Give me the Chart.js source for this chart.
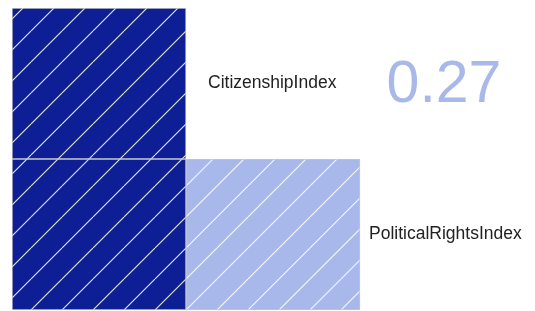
<!DOCTYPE html>
<html>
<head>
<meta charset="utf-8">
<script src="https://cdn.jsdelivr.net/npm/chart.js@4"></script>
<style>
  body { margin: 0; background: #fff; }
  canvas { display: block; }
</style>
</head>
<body>
<canvas id="chart" width="535" height="311"></canvas>
<script>
// columnas de la matriz (la tercera es solo espacio para las etiquetas)
const columns = ['CitizenshipIndex', 'PoliticalRightsIndex', ''];
// fila inferior y fila superior (cada celda ocupa 1 unidad)
const bottomRow = [1, 1, null];
const topRow = [1, null, null];
const bottomColors = ['#0e1f96', '#a8b8ea', '#fff'];
const topColors = ['#0e1f96', '#fff', '#fff'];
const rowLabels = ['PoliticalRightsIndex', 'CitizenshipIndex'];
const corrText = '0.27';

function hatch(color) {
    const s = 31;
    const c = document.createElement('canvas');
    c.width = s; c.height = s;
    const g = c.getContext('2d');
    g.fillStyle = color;
    g.fillRect(0, 0, s, s);
    g.strokeStyle = 'rgba(255,255,255,0.9)';
    g.lineWidth = 1.1;
    for (const off of [-s, 0, s]) {
        g.beginPath();
        g.moveTo(off, s);
        g.lineTo(off + s, 0);
        g.stroke();
    }
    return g.createPattern(c, 'repeat');
}

const labelPlugin = {
    id: 'labels',
    afterDatasetsDraw(chart) {
        const { ctx, scales } = chart;
        const colW = scales.x.getPixelForValue(1) - scales.x.getPixelForValue(0);
        ctx.save();
        ctx.fillStyle = '#222';
        ctx.font = '17.5px "Liberation Sans", Arial, sans-serif';
        ctx.textBaseline = 'middle';
        ctx.textAlign = 'left';
        ctx.fillText(rowLabels[1], scales.x.getPixelForValue(1) - colW / 2 + 22, scales.y.getPixelForValue(1.5));
        ctx.fillText(rowLabels[0], scales.x.getPixelForValue(2) - colW / 2 + 9, scales.y.getPixelForValue(0.5));
        ctx.fillStyle = '#a8b8ea';
        ctx.font = '59px "Liberation Sans", Arial, sans-serif';
        ctx.textAlign = 'center';
        ctx.fillText(corrText, scales.x.getPixelForValue(2) - 3, scales.y.getPixelForValue(1.5) + 2);
        ctx.restore();
    }
};

new Chart(document.getElementById('chart'), {
    type: 'bar',
    data: {
        labels: columns,
        datasets: [{
            data: bottomRow,
            backgroundColor: bottomColors.map(hatch),
            borderColor: '#c8c8c8',
            borderWidth: 1,
            borderSkipped: false,
            barPercentage: 1,
            categoryPercentage: 1
        }, {
            data: topRow,
            backgroundColor: topColors.map(hatch),
            borderColor: '#c8c8c8',
            borderWidth: 1,
            borderSkipped: false,
            barPercentage: 1,
            categoryPercentage: 1
        }]
    },
    options: {
        responsive: false,
        animation: false,
        layout: { padding: { left: 12, top: 8, right: 1, bottom: 1 } },
        plugins: { legend: { display: false }, tooltip: { enabled: false } },
        scales: {
            x: { stacked: true, display: false },
            y: { stacked: true, display: false, min: 0, max: 2 }
        }
    },
    plugins: [labelPlugin]
});
</script>
</body>
</html>
